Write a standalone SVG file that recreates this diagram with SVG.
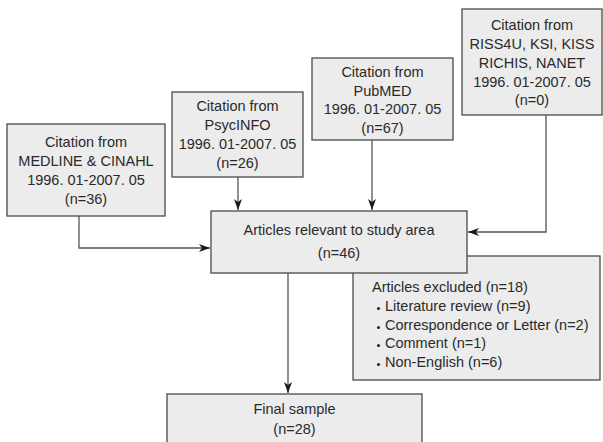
<svg xmlns="http://www.w3.org/2000/svg" width="603" height="442" viewBox="0 0 603 442">
<style>
.box{fill:#ececec;stroke:#4a4a4a;stroke-width:1.3}
.t{font-family:"Liberation Sans",Arial,sans-serif;font-size:14.5px;fill:#2a2a2a;text-anchor:middle}
.l{font-family:"Liberation Sans",Arial,sans-serif;font-size:14.5px;fill:#2a2a2a}
.c{fill:none;stroke:#555;stroke-width:1.3}
.b{fill:#2a2a2a}
</style>
<defs>
<marker id="ah" markerWidth="12" markerHeight="8" refX="11" refY="4" orient="auto" markerUnits="userSpaceOnUse">
<path d="M0,0 L11,4 L0,8 L3,4 Z" fill="#1a1a1a"/>
</marker>
</defs>
<rect width="603" height="442" fill="#fff"/>
<g id="connectors">
<polyline class="c" points="79,216 79,248 210,248" marker-end="url(#ah)"/>
<line class="c" x1="238" y1="177" x2="238" y2="210" marker-end="url(#ah)"/>
<line class="c" x1="372" y1="140" x2="372" y2="210" marker-end="url(#ah)"/>
<polyline class="c" points="546,115 546,232 468,232" marker-end="url(#ah)"/>
<line class="c" x1="288" y1="273" x2="288" y2="393" marker-end="url(#ah)"/>
</g>
<g id="medline">
<rect class="box" x="7" y="124" width="158" height="92"/>
<text class="t" x="86" y="146.5">Citation from</text>
<text class="t" x="86" y="166">MEDLINE &amp; CINAHL</text>
<text class="t" x="86" y="185">1996. 01-2007. 05</text>
<text class="t" x="86" y="204">(n=36)</text>
</g>
<g id="psycinfo">
<rect class="box" x="172" y="92" width="131" height="85"/>
<text class="t" x="237.5" y="111">Citation from</text>
<text class="t" x="237.5" y="130">PsycINFO</text>
<text class="t" x="237.5" y="149">1996. 01-2007. 05</text>
<text class="t" x="237.5" y="168">(n=26)</text>
</g>
<g id="pubmed">
<rect class="box" x="312" y="58" width="141" height="82"/>
<text class="t" x="382.5" y="77">Citation from</text>
<text class="t" x="382.5" y="95.5">PubMED</text>
<text class="t" x="382.5" y="114">1996. 01-2007. 05</text>
<text class="t" x="382.5" y="133">(n=67)</text>
</g>
<g id="riss">
<rect class="box" x="462" y="9" width="140" height="106"/>
<text class="t" x="532" y="30">Citation from</text>
<text class="t" x="532" y="48.5">RISS4U, KSI, KISS</text>
<text class="t" x="532" y="68">RICHIS, NANET</text>
<text class="t" x="532" y="87">1996. 01-2007. 05</text>
<text class="t" x="532" y="105">(n=0)</text>
</g>
<g id="excluded">
<rect class="box" x="353" y="256" width="247" height="124"/>
<text class="l" x="372" y="292">Articles excluded (n=18)</text>
<circle class="b" cx="378.5" cy="308.5" r="1.6"/>
<text class="l" x="385" y="311">Literature review (n=9)</text>
<circle class="b" cx="378.5" cy="327.5" r="1.6"/>
<text class="l" x="385" y="330">Correspondence or Letter (n=2)</text>
<circle class="b" cx="378.5" cy="345.5" r="1.6"/>
<text class="l" x="385" y="348">Comment (n=1)</text>
<circle class="b" cx="378.5" cy="364.5" r="1.6"/>
<text class="l" x="385" y="367">Non-English (n=6)</text>
</g>
<g id="relevant">
<rect class="box" x="211" y="211" width="256" height="62"/>
<text class="t" x="339" y="235">Articles relevant to study area</text>
<text class="t" x="339" y="258">(n=46)</text>
</g>
<g id="final">
<rect class="box" x="167" y="394" width="255" height="52"/>
<text class="t" x="294.5" y="414">Final sample</text>
<text class="t" x="294.5" y="434">(n=28)</text>
</g>
</svg>
